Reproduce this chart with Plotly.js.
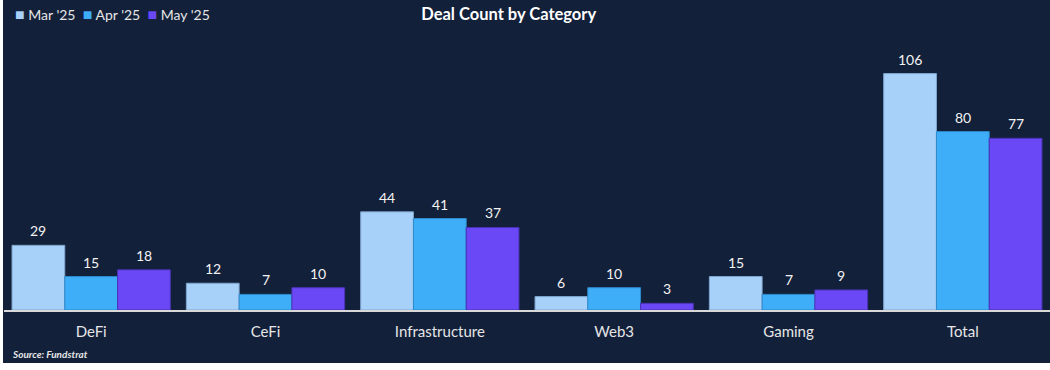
<!DOCTYPE html>
<html>
<head>
<meta charset="utf-8">
<script src="https://cdn.plot.ly/plotly-3.0.1.min.js"></script>
<style>
  html, body { margin: 0; padding: 0; background: #ffffff; }
  #chart { position: absolute; left: 3px; top: 0px; width: 1047px; height: 363px; }
</style>
</head>
<body>
<div id="chart"></div>
<script>
const categories = ['DeFi', 'CeFi', 'Infrastructure', 'Web3', 'Gaming', 'Total'];
const seriesNames = ["Mar '25", "Apr '25", "May '25"];
const mar25 = [29, 12, 44, 6, 15, 106];
const apr25 = [15, 7, 41, 10, 7, 80];
const may25 = [18, 10, 37, 3, 9, 77];
const seriesValues = [mar25, apr25, may25];
const colors = ['#A8D1F9', '#3EAEF9', '#6B48F5'];
const lineColors = ['#7FA6CF', '#2E8ACB', '#4A33B4'];

const bg = '#12203A';
const font = 'Lato, "Open Sans", sans-serif';

const traces = seriesValues.map((vals, i) => ({
  type: 'bar',
  name: seriesNames[i],
  x: categories,
  y: vals,
  marker: { color: colors[i], line: { color: lineColors[i], width: 1 } },
  hoverinfo: 'x+y+name'
}));

const barPx = 52.8;
const annotations = [];
seriesValues.forEach((vals, i) => {
  vals.forEach((v, j) => {
    annotations.push({
      x: categories[j], y: v, xref: 'x', yref: 'y',
      text: String(v), showarrow: false,
      xanchor: 'center', yanchor: 'bottom',
      xshift: (i - 1) * barPx, yshift: 4,
      font: { family: font, size: 14, color: '#F2F2F2' }
    });
  });
});

// legend built as text
const legendText = seriesNames.map((n, i) =>
  `<span style="color:${colors[i]};font-size:16px">■</span> ${n}`).join('  ');
annotations.push({
  xref: 'paper', yref: 'paper', x: 0.0085, y: 1.064,
  xanchor: 'left', yanchor: 'middle', showarrow: false,
  text: legendText,
  font: { family: font, size: 14, color: '#E6E6E6' }
});
annotations.push({
  xref: 'paper', yref: 'paper', x: 0.006, y: -0.158,
  xanchor: 'left', yanchor: 'middle', showarrow: false,
  text: '<b><i>Source: Fundstrat</i></b>',
  font: { family: font, size: 10, color: '#E6E6E6' }
});

const layout = {
  width: 1047, height: 363,
  paper_bgcolor: bg, plot_bgcolor: bg,
  margin: { l: 1, r: 0, t: 31, b: 53, pad: 0 },
  barmode: 'group', bargap: 0.092, bargroupgap: 0,
  showlegend: false,
  title: {
    text: '<b>Deal Count by Category</b>',
    x: 0.483, xanchor: 'center', y: 0.961, yanchor: 'middle',
    font: { family: font, size: 16.5, color: '#FFFFFF' }
  },
  xaxis: {
    type: 'category',
    showline: true, linecolor: '#D9D9D9', linewidth: 2,
    showgrid: false, zeroline: false, ticks: '',
    tickfont: { family: font, size: 15, color: '#E6E6E6' },
    ticklabelstandoff: 7
  },
  yaxis: {
    range: [0, 125.1], showgrid: false, zeroline: false,
    showticklabels: false, showline: false, ticks: ''
  },
  annotations: annotations
};

Plotly.newPlot('chart', traces, layout, { displayModeBar: false, staticPlot: true });
</script>
</body>
</html>
